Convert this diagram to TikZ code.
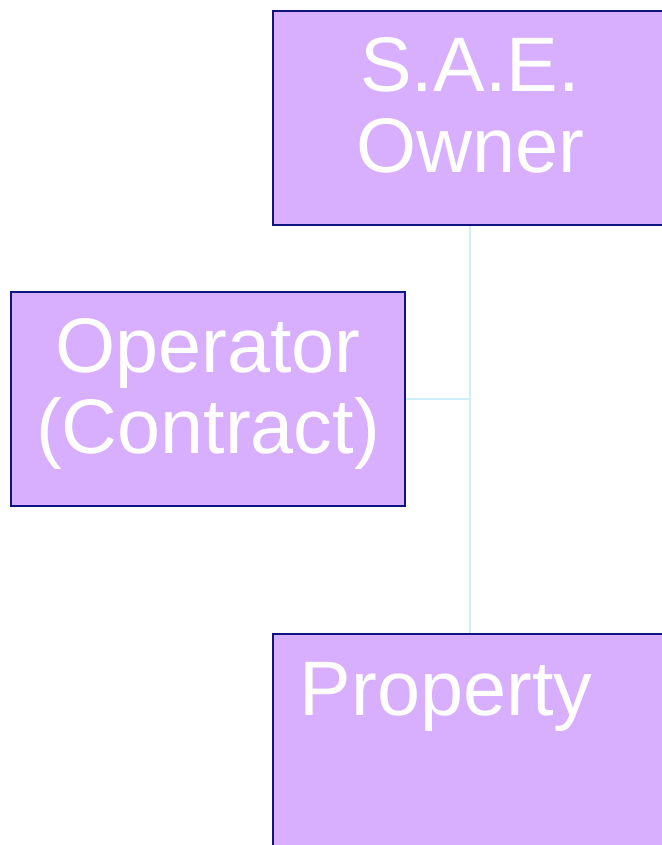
\documentclass[tikz,border=0pt]{standalone}
\usepackage{fontspec}
\setsansfont{Liberation Sans}
\usetikzlibrary{positioning}

\definecolor{boxfill}{RGB}{216,174,254}
\definecolor{boxdraw}{RGB}{16,20,128}
\definecolor{linkcol}{RGB}{208,237,250}

\begin{document}
\begin{tikzpicture}[
    font=\sffamily\fontsize{55}{57.6}\selectfont,
    orgbox/.style={rectangle, draw=boxdraw, fill=boxfill, line width=1.4pt, text=white, minimum width=9.85cm, minimum height=5.35cm, align=center, inner sep=0pt},
    lifted/.style={execute at end node={\rule[-18pt]{0pt}{0pt}}},
    link/.style={draw=linkcol, line width=1.5pt}
]
\useasboundingbox (0,0) rectangle (16.55,-21.125);
\clip (0,0) rectangle (16.55,-21.125);
% ---------------- boxes ----------------
\node[orgbox, lifted] (owner) at (11.75,-2.95) {S.A.E.\\Owner};
\node[orgbox, lifted] (operator) at (5.2,-9.975) {Operator\\(Contract)};
\node[orgbox, below=10.175cm of owner, align=left, text width=241.9pt, inner xsep=19.2pt, inner ysep=18.5pt, text height=39.4pt, text depth=75.8pt] (property) {Property};
% ---------------- links ----------------
\coordinate (junction) at (operator.east -| owner.south);
\draw[link] (owner.south) -- (property.north);
\draw[link] (operator.east) -- (junction);
\end{tikzpicture}
\end{document}
